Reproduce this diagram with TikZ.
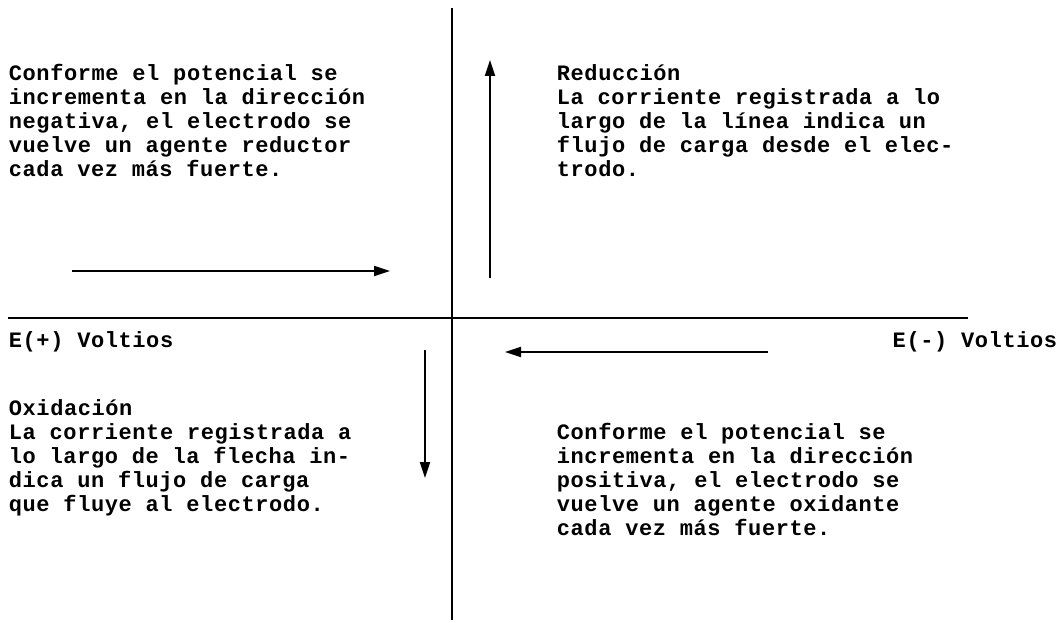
\documentclass[tikz,border=0pt]{standalone}
\usepackage{fontspec}
\newfontfamily\dotfont[LetterSpace=2.7]{Liberation Mono}
\usepackage{tikz}
\usetikzlibrary{arrows.meta,positioning}

\begin{document}
\begin{tikzpicture}[x=1pt, y=-1pt, line width=1.8pt,
    every node/.style={inner sep=0pt, align=left, font=\dotfont\bfseries\fontsize{22pt}{24pt}\selectfont},
    flecha/.style={-{Triangle[length=16pt,width=10pt]}}]
                \useasboundingbox (0,0) rectangle (1062,623);

                % Axes
                \coordinate (vtop) at (452,8);
                \coordinate (vbot) at (452,620);
                \coordinate (hl) at (8,318);
                \coordinate (hr) at (968,318);
                \draw (vtop) -- (vbot);
                \draw (hl) -- (hr);

                % Arrow ends
                \coordinate (ra1) at (72,271);
                \coordinate (ra2) at (390,271);
                \coordinate (ua1) at (490,278);
                \coordinate (ua2) at (490,60);
                \coordinate (la1) at (768,352);
                \coordinate (la2) at (505,352);
                \coordinate (da1) at (425,350);
                \coordinate (da2) at (425,478);

                % Arrows
                \draw[flecha] (ra1) -- (ra2);
                \draw[flecha] (ua1) -- (ua2);
                \draw[flecha] (la1) -- (la2);
                \draw[flecha] (da1) -- (da2);

                % Axis labels
                \node[anchor=base west] (ep) at (8,347) {E(+) Voltios};
                \node[anchor=base east] (en) at (1058,347) {E(-) Voltios};

                % Quadrant texts (base = last line)
                \node[anchor=base west] (tl) at (8,176) {Conforme el potencial se\\incrementa en la dirección\\negativa, el electrodo se\\vuelve un agente reductor\\cada vez más fuerte.};
                \node[anchor=base west] (tr) at (556,176) {Reducción\\La corriente registrada a lo\\largo de la línea indica un\\flujo de carga desde el elec-\\trodo.};
                \node[anchor=base west] (bl) at (8,511) {Oxidación\\La corriente registrada a\\lo largo de la flecha in-\\dica un flujo de carga\\que fluye al electrodo.};
                \node[anchor=base west] (br) at (556,535) {Conforme el potencial se\\incrementa en la dirección\\positiva, el electrodo se\\vuelve un agente oxidante\\cada vez más fuerte.};
            \end{tikzpicture}
\end{document}
